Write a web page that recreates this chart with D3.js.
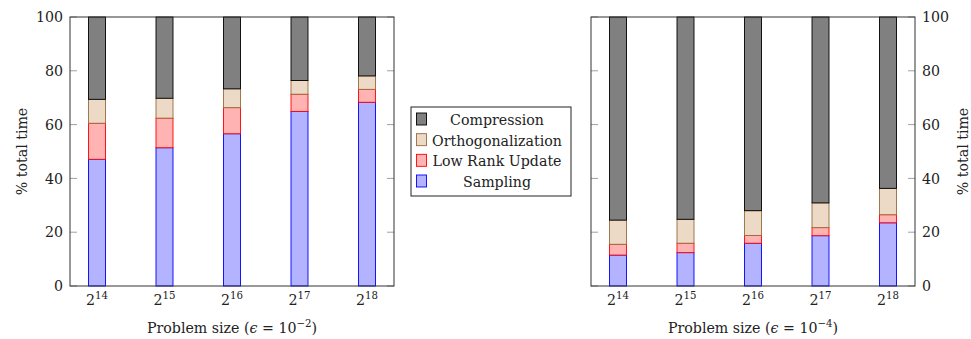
<!DOCTYPE html>
<html>
<head>
<meta charset="utf-8">
<script src="https://cdn.jsdelivr.net/npm/d3@7"></script>
<style>
  html, body { margin: 0; padding: 0; background: #fff; }
  svg text { font-family: "DejaVu Serif", "Liberation Serif", serif; fill: #222; }
</style>
</head>
<body>
<svg id="chart" width="971" height="339"></svg>
<script>
// Problem sizes (powers of two) shown on the x axis
const exponents = [14, 15, 16, 17, 18];
const yTicks = [0, 20, 40, 60, 80, 100];

// Share of total time per phase, epsilon = 1e-2
const samplingE2    = [47.1, 51.4, 56.6, 64.9, 68.3];
const lowRankE2     = [13.4, 11.0,  9.7,  6.4,  4.8];
const orthoE2       = [ 8.9,  7.4,  7.0,  5.1,  5.0];
const compressionE2 = [30.6, 30.2, 26.7, 23.6, 21.9];

// Share of total time per phase, epsilon = 1e-4
const samplingE4    = [11.5, 12.4, 15.9, 18.7, 23.5];
const lowRankE4     = [ 4.0,  3.5,  2.9,  3.0,  3.0];
const orthoE4       = [ 9.0,  8.9,  9.2,  9.2,  9.8];
const compressionE4 = [75.5, 75.2, 72.0, 69.1, 63.7];

// Phases from bottom of the stack to the top
const phases = ["Sampling", "Low Rank Update", "Orthogonalization", "Compression"];
const phaseStyle = {
  "Sampling":          { fill: "#b3b3ff", stroke: "#0000ff" },
  "Low Rank Update":   { fill: "#ffb3b3", stroke: "#ff0000" },
  "Orthogonalization": { fill: "#ecd9c6", stroke: "#9a6a3c" },
  "Compression":       { fill: "#808080", stroke: "#000000" }
};

const svg = d3.select("#chart");
const fontSize = 14.2;
const supSize = 10.2;
const serif = "DejaVu Serif, Liberation Serif, serif";

function buildRows(s, l, o, c) {
  return exponents.map((e, i) => ({
    exp: e,
    "Sampling": s[i],
    "Low Rank Update": l[i],
    "Orthogonalization": o[i],
    "Compression": c[i]
  }));
}

function drawPanel(opts) {
  const { left, right, top, bottom, rows, side, epsExp } = opts;
  const g = svg.append("g").attr("font-family", serif);
  const x = d3.scalePoint().domain(exponents).range([left, right]).padding(0.4);
  const y = d3.scaleLinear().domain([0, 100]).range([bottom, top]);
  const barW = 17;

  const stacked = d3.stack().keys(phases)(rows);
  stacked.forEach(layer => {
    const st = phaseStyle[layer.key];
    g.append("g").selectAll("rect").data(layer).join("rect")
      .attr("x", d => x(d.data.exp) - barW / 2)
      .attr("y", d => y(d[1]))
      .attr("width", barW)
      .attr("height", d => y(d[0]) - y(d[1]))
      .attr("fill", st.fill)
      .attr("stroke", st.stroke)
      .attr("stroke-width", 0.9);
  });

  // y ticks drawn inward on both sides of the frame
  const tickLen = 7;
  [left, right].forEach(xp => {
    const dir = xp === left ? 1 : -1;
    g.append("g").selectAll("line").data(yTicks).join("line")
      .attr("x1", xp).attr("x2", xp + dir * tickLen)
      .attr("y1", d => y(d)).attr("y2", d => y(d))
      .attr("stroke", "#a0a0a0").attr("stroke-width", 1);
  });

  // frame
  g.append("rect")
    .attr("x", left).attr("y", top)
    .attr("width", right - left).attr("height", bottom - top)
    .attr("fill", "none").attr("stroke", "#333").attr("stroke-width", 1);

  // y tick labels
  const lx = side === "left" ? left - 7 : right + 7;
  g.append("g").selectAll("text").data(yTicks).join("text")
    .attr("x", lx)
    .attr("y", d => y(d))
    .attr("dy", "0.36em")
    .attr("text-anchor", side === "left" ? "end" : "start")
    .style("font-size", fontSize + "px")
    .text(d => d);

  // y axis title
  const tx = side === "left" ? 22 : 963;
  g.append("text")
    .attr("transform", `translate(${tx + 5},${(top + bottom) / 2}) rotate(-90)`)
    .attr("text-anchor", "middle")
    .style("font-size", fontSize + "px")
    .text("% total time");

  // x tick labels: 2^k
  const xl = g.append("g").selectAll("text").data(exponents).join("text")
    .attr("x", d => x(d))
    .attr("y", 305)
    .attr("text-anchor", "middle")
    .style("font-size", fontSize + "px");
  xl.append("tspan").text("2");
  xl.append("tspan").attr("dy", -6).style("font-size", supSize + "px").text(d => d);

  // x axis title
  const xt = g.append("text")
    .attr("x", (left + right) / 2)
    .attr("y", 333)
    .attr("text-anchor", "middle")
    .style("font-size", fontSize + "px");
  xt.append("tspan").text("Problem size (");
  xt.append("tspan").style("font-style", "italic").text("\u03f5");
  xt.append("tspan").text(" = 10");
  xt.append("tspan").attr("dy", -6).style("font-size", supSize + "px").text("\u2212" + epsExp);
  xt.append("tspan").attr("dy", 6).text(")");
}

drawPanel({ left: 70, right: 394, top: 17, bottom: 286, side: "left", epsExp: 2,
  rows: buildRows(samplingE2, lowRankE2, orthoE2, compressionE2) });
drawPanel({ left: 591, right: 915, top: 17, bottom: 286, side: "right", epsExp: 4,
  rows: buildRows(samplingE4, lowRankE4, orthoE4, compressionE4) });

// legend
const legend = svg.append("g").attr("font-family", serif);
legend.append("rect")
  .attr("x", 411).attr("y", 107).attr("width", 160).attr("height", 89)
  .attr("fill", "#fff").attr("stroke", "#222").attr("stroke-width", 1);
const legendOrder = phases.slice().reverse();
const rowY = d3.scalePoint().domain(legendOrder).range([120, 182]);
legendOrder.forEach(name => {
  const st = phaseStyle[name];
  legend.append("rect")
    .attr("x", 416.5).attr("y", rowY(name) - 7)
    .attr("width", 10).attr("height", 12)
    .attr("fill", st.fill).attr("stroke", st.stroke).attr("stroke-width", 0.9);
  legend.append("text")
    .attr("x", 497).attr("y", rowY(name))
    .attr("dy", "0.36em")
    .attr("text-anchor", "middle")
    .style("font-size", fontSize + "px")
    .text(name);
});
</script>
</body>
</html>
